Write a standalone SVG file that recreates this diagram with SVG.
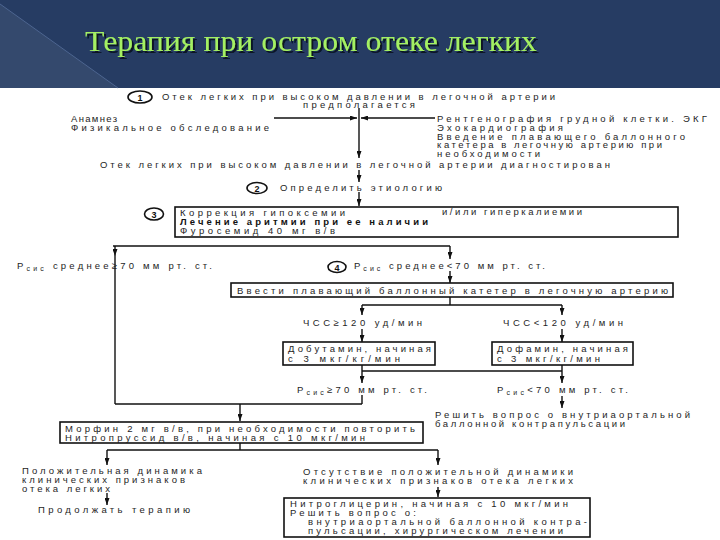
<svg xmlns="http://www.w3.org/2000/svg" width="720" height="540" viewBox="0 0 720 540">
<defs>
<marker id="ah" viewBox="0 0 10 10" refX="10" refY="5" markerWidth="7" markerHeight="5" preserveAspectRatio="none" orient="auto" markerUnits="userSpaceOnUse">
<path d="M0,0 L10,5 L0,10 z" fill="#111"/>
</marker>
<filter id="sh" x="-5%" y="-20%" width="110%" height="150%">
<feOffset in="SourceAlpha" dx="2" dy="2" result="o"/>
<feFlood flood-color="#081324"/>
<feComposite in2="o" operator="in" result="s"/>
<feMerge><feMergeNode in="s"/><feMergeNode in="SourceGraphic"/></feMerge>
</filter>
</defs>
<style>
.t{font-family:"Liberation Sans","DejaVu Sans",sans-serif;font-size:9.5px;fill:#1e1e1e;}
.b{font-weight:bold;fill:#111;}
.s{font-size:7px;}
.box{fill:#fff;stroke:#111;stroke-width:1.6;}
.ln{fill:none;stroke:#111;stroke-width:1.4;}
.ar{fill:none;stroke:#111;stroke-width:1.4;marker-end:url(#ah);}
.cir{fill:none;stroke:#111;stroke-width:1.6;}
.num{font-family:"Liberation Sans","DejaVu Sans",sans-serif;font-size:9px;fill:#111;text-anchor:middle;font-weight:bold;}
.title{font-family:"Liberation Serif","Times New Roman",serif;font-size:30px;fill:#a4f063;}
</style>
<rect x="0" y="0" width="720" height="540" fill="#fff"/>
<g id="header">
<rect x="0" y="0" width="720" height="88" fill="#263c63"/>
<polygon points="0,4 118,88 0,88" fill="#34496d"/>
<line x1="0" y1="4" x2="118" y2="88" stroke="#4d6590" stroke-width="1"/>
<text class="title" x="85" y="51" filter="url(#sh)" textLength="452" lengthAdjust="spacingAndGlyphs">Терапия при остром отеке легких</text>
</g>
<g id="connectors">
<line class="ar" x1="274" y1="118" x2="357" y2="118"/>
<line class="ar" x1="435" y1="118" x2="361" y2="118"/>
<line class="ar" x1="359" y1="108" x2="359" y2="158"/>
<line class="ar" x1="359" y1="170" x2="359" y2="182"/>
<line class="ar" x1="359" y1="192" x2="359" y2="206"/>
<line class="ln" x1="113" y1="246" x2="450" y2="246"/>
<line class="ar" x1="115" y1="246" x2="115" y2="256"/>
<line class="ln" x1="115" y1="256" x2="115" y2="404"/>
<line class="ar" x1="450" y1="246" x2="450" y2="259"/>
<line class="ar" x1="450" y1="271" x2="450" y2="283"/>
<line class="ln" x1="450" y1="297" x2="450" y2="305"/>
<line class="ln" x1="362" y1="305" x2="562" y2="305"/>
<line class="ar" x1="362" y1="305" x2="362" y2="315"/>
<line class="ar" x1="562" y1="305" x2="562" y2="315"/>
<line class="ar" x1="362" y1="329" x2="362" y2="342"/>
<line class="ar" x1="562" y1="329" x2="562" y2="342"/>
<line class="ln" x1="362" y1="371" x2="562" y2="371"/>
<line class="ar" x1="362" y1="365" x2="362" y2="383"/>
<line class="ar" x1="562" y1="365" x2="562" y2="383"/>
<line class="ln" x1="115" y1="404" x2="362" y2="404"/>
<line class="ln" x1="362" y1="395" x2="362" y2="404"/>
<line class="ar" x1="240" y1="404" x2="240" y2="421"/>
<line class="ar" x1="562" y1="396" x2="562" y2="408"/>
<line class="ln" x1="240" y1="443" x2="240" y2="450"/>
<line class="ln" x1="107" y1="450" x2="438" y2="450"/>
<line class="ar" x1="107" y1="450" x2="107" y2="465"/>
<line class="ar" x1="438" y1="450" x2="438" y2="465"/>
<line class="ar" x1="107" y1="493" x2="107" y2="505"/>
<line class="ar" x1="438" y1="487" x2="438" y2="497"/>
</g>
<g id="n1">
<ellipse class="cir" cx="140" cy="97" rx="12" ry="6"/>
<text class="num" x="140" y="100.5">1</text>
<text class="t" x="162" y="100" textLength="393" lengthAdjust="spacing">Отек легких при высоком давлении в легочной артерии</text>
<text class="t" x="303" y="107.5" textLength="112" lengthAdjust="spacing">предполагается</text>
</g>
<g id="n-anamnez">
<text class="t" x="71" y="122" textLength="46" lengthAdjust="spacing">Анамнез</text>
<text class="t" x="71" y="131" textLength="198" lengthAdjust="spacing">Физикальное обследование</text>
</g>
<g id="n-rentgen">
<text class="t" x="437" y="122" textLength="270" lengthAdjust="spacing">Рентгенография грудной клетки. ЭКГ</text>
<text class="t" x="437" y="131" textLength="126" lengthAdjust="spacing">Эхокардиография</text>
<text class="t" x="437" y="139.5" textLength="248" lengthAdjust="spacing">Введение плавающего баллонного</text>
<text class="t" x="437" y="148" textLength="225" lengthAdjust="spacing">катетера в легочную артерию при</text>
<text class="t" x="437" y="156.5" textLength="103" lengthAdjust="spacing">необходимости</text>
</g>
<g id="n-diag">
<text class="t" x="100" y="168" textLength="510" lengthAdjust="spacing">Отек легких при высоком давлении в легочной артерии диагностирован</text>
</g>
<g id="n2">
<ellipse class="cir" cx="257" cy="188" rx="10" ry="5.5"/>
<text class="num" x="257" y="191.5">2</text>
<text class="t" x="280" y="191" textLength="162" lengthAdjust="spacing">Определить этиологию</text>
</g>
<g id="n3">
<ellipse class="cir" cx="154" cy="214" rx="9.5" ry="6"/>
<text class="num" x="154" y="217.5">3</text>
<rect class="box" x="175" y="207" width="503" height="30"/>
<text class="t" x="180" y="216" textLength="165" lengthAdjust="spacing">Коррекция гипоксемии</text>
<text class="t" x="442" y="215" textLength="140" lengthAdjust="spacing">и/или гиперкалиемии</text>
<text class="t b" x="180" y="225" textLength="248" lengthAdjust="spacing">Лечение аритмии при ее наличии</text>
<text class="t" x="180" y="234" textLength="155" lengthAdjust="spacing">Фуросемид 40 мг в/в</text>
</g>
<g id="n-left70">
<text class="t" x="17" y="269" textLength="195" lengthAdjust="spacing">Р<tspan class="s" dy="1.5">сис</tspan><tspan dy="-1.5"> среднее≥70 мм рт. ст.</tspan></text>
</g>
<g id="n4">
<ellipse class="cir" cx="337" cy="267" rx="9" ry="5.5"/>
<text class="num" x="337" y="270.5">4</text>
<text class="t" x="354" y="269" textLength="191" lengthAdjust="spacing">Р<tspan class="s" dy="1.5">сис</tspan><tspan dy="-1.5"> среднее&lt;70 мм рт. ст.</tspan></text>
</g>
<g id="n-catheter">
<rect class="box" x="231" y="283" width="442" height="14"/>
<text class="t" x="237" y="294" textLength="431" lengthAdjust="spacing">Ввести плавающий баллонный катетер в легочную артерию</text>
</g>
<g id="n-hr-high">
<text class="t" x="303" y="326" textLength="119" lengthAdjust="spacing">ЧСС≥120 уд/мин</text>
</g>
<g id="n-hr-low">
<text class="t" x="503" y="326" textLength="120" lengthAdjust="spacing">ЧСС&lt;120 уд/мин</text>
</g>
<g id="n-dobutamine">
<rect class="box" x="283" y="342" width="152" height="23"/>
<text class="t" x="288" y="352" textLength="143" lengthAdjust="spacing">Добутамин, начиная</text>
<text class="t" x="288" y="362" textLength="112" lengthAdjust="spacing">с 3 мкг/кг/мин</text>
</g>
<g id="n-dopamine">
<rect class="box" x="492" y="342" width="141" height="23"/>
<text class="t" x="497" y="352" textLength="131" lengthAdjust="spacing">Дофамин, начиная</text>
<text class="t" x="497" y="362" textLength="103" lengthAdjust="spacing">с 3 мкг/кг/мин</text>
</g>
<g id="n-p-high">
<text class="t" x="297" y="393" textLength="130" lengthAdjust="spacing">Р<tspan class="s" dy="1.5">сис</tspan><tspan dy="-1.5">≥70 мм рт. ст.</tspan></text>
</g>
<g id="n-p-low">
<text class="t" x="497" y="393" textLength="131" lengthAdjust="spacing">Р<tspan class="s" dy="1.5">сис</tspan><tspan dy="-1.5">&lt;70 мм рт. ст.</tspan></text>
</g>
<g id="n-iabp">
<text class="t" x="435" y="418" textLength="255" lengthAdjust="spacing">Решить вопрос о внутриаортальной</text>
<text class="t" x="435" y="427" textLength="190" lengthAdjust="spacing">баллонной контрапульсации</text>
</g>
<g id="n-morphine">
<rect class="box" x="60" y="422" width="363" height="21"/>
<text class="t" x="65" y="432" textLength="350" lengthAdjust="spacing">Морфин 2 мг в/в, при необходимости повторить</text>
<text class="t" x="65" y="441" textLength="300" lengthAdjust="spacing">Нитропруссид в/в, начиная с 10 мкг/мин</text>
</g>
<g id="n-positive">
<text class="t" x="22" y="474" textLength="180" lengthAdjust="spacing">Положительная динамика</text>
<text class="t" x="22" y="483" textLength="163" lengthAdjust="spacing">клинических признаков</text>
<text class="t" x="22" y="492" textLength="88" lengthAdjust="spacing">отека легких</text>
</g>
<g id="n-continue">
<text class="t" x="38" y="513" textLength="152" lengthAdjust="spacing">Продолжать терапию</text>
</g>
<g id="n-negative">
<text class="t" x="303" y="475" textLength="270" lengthAdjust="spacing">Отсутствие положительной динамики</text>
<text class="t" x="303" y="484" textLength="270" lengthAdjust="spacing">клинических признаков отека легких</text>
</g>
<g id="n-nitro">
<rect class="box" x="284" y="498" width="306" height="39"/>
<text class="t" x="290" y="507" textLength="278" lengthAdjust="spacing">Нитроглицерин, начиная с 10 мкг/мин</text>
<text class="t" x="290" y="516" textLength="126" lengthAdjust="spacing">Решить вопрос о:</text>
<text class="t" x="308" y="525" textLength="279" lengthAdjust="spacing">внутриаортальной баллонной контра-</text>
<text class="t" x="308" y="534" textLength="255" lengthAdjust="spacing">пульсации, хирургическом лечении</text>
</g>
</svg>
